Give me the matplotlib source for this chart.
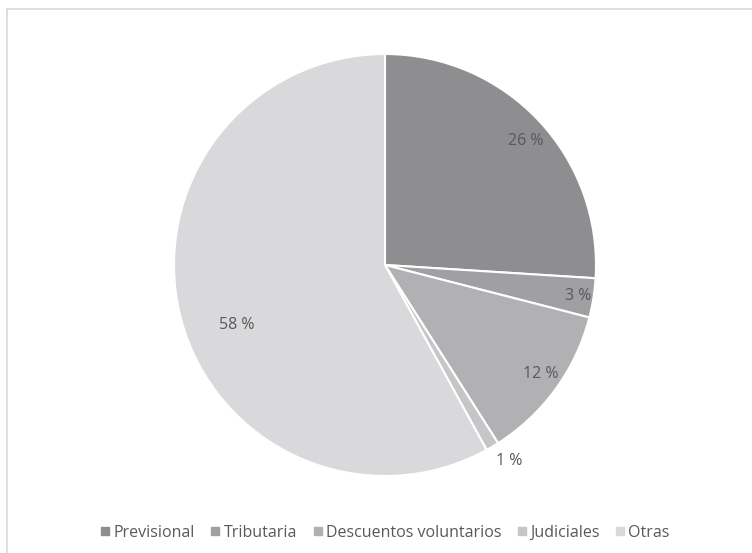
import matplotlib
matplotlib.use("Agg")
import matplotlib.pyplot as plt
import numpy as np
from matplotlib.lines import Line2D

plt.rcParams['font.family'] = ['Open Sans', 'DejaVu Sans']

# Data
categories = ['Previsional', 'Tributaria', 'Descuentos voluntarios', 'Judiciales', 'Otras']
shares = [26, 3, 12, 1, 58]
colors = ['#8e8e91', '#a0a0a3', '#b1b1b4', '#c6c6c9', '#d9d9db']

# label placement (radius factor, angle shift in degrees)
label_pos = [(0.89, -1.9), (0.925, 0.0), (0.90, 1.1), (1.10, 1.7), (0.757, 7.7)]

W, H, dpi = 752, 553, 100
fig = plt.figure(figsize=(W / dpi, H / dpi), dpi=dpi)

# frame lines (top and left)
fig.add_artist(Line2D([7 / W, 1], [1 - 9 / H, 1 - 9 / H], color='#d9d9d9', lw=1.2))
fig.add_artist(Line2D([7 / W, 7 / W], [0, 1 - 9 / H], color='#d9d9d9', lw=1.2))

cx, cy, r = 385, 265, 211
ax = fig.add_axes([(cx - r) / W, (H - cy - r) / H, 2 * r / W, 2 * r / H])
wedges, _ = ax.pie(shares, colors=colors, startangle=90, counterclock=False,
                   wedgeprops=dict(edgecolor='white', linewidth=1.5))
ax.set_xlim(-1, 1)
ax.set_ylim(-1, 1)
ax.set_aspect('equal')
ax.axis('off')

for w, v, (rf, da) in zip(wedges, shares, label_pos):
    ang = np.deg2rad((w.theta1 + w.theta2) / 2 + da)
    ax.text(rf * np.cos(ang), rf * np.sin(ang), f'{v} %', ha='center', va='center',
            fontsize=11.5, color='#595959')

handles = [Line2D([], [], marker='s', color=c, linestyle='none', markersize=6) for c in colors]
fig.legend(handles, categories, loc='center', bbox_to_anchor=(cx / W, 1 - 533 / H),
           ncol=5, frameon=False, fontsize=11.5, labelcolor='#595959',
           handlelength=0.6, handletextpad=0.2, columnspacing=1.0)

fig.savefig('out.png', dpi=dpi)
